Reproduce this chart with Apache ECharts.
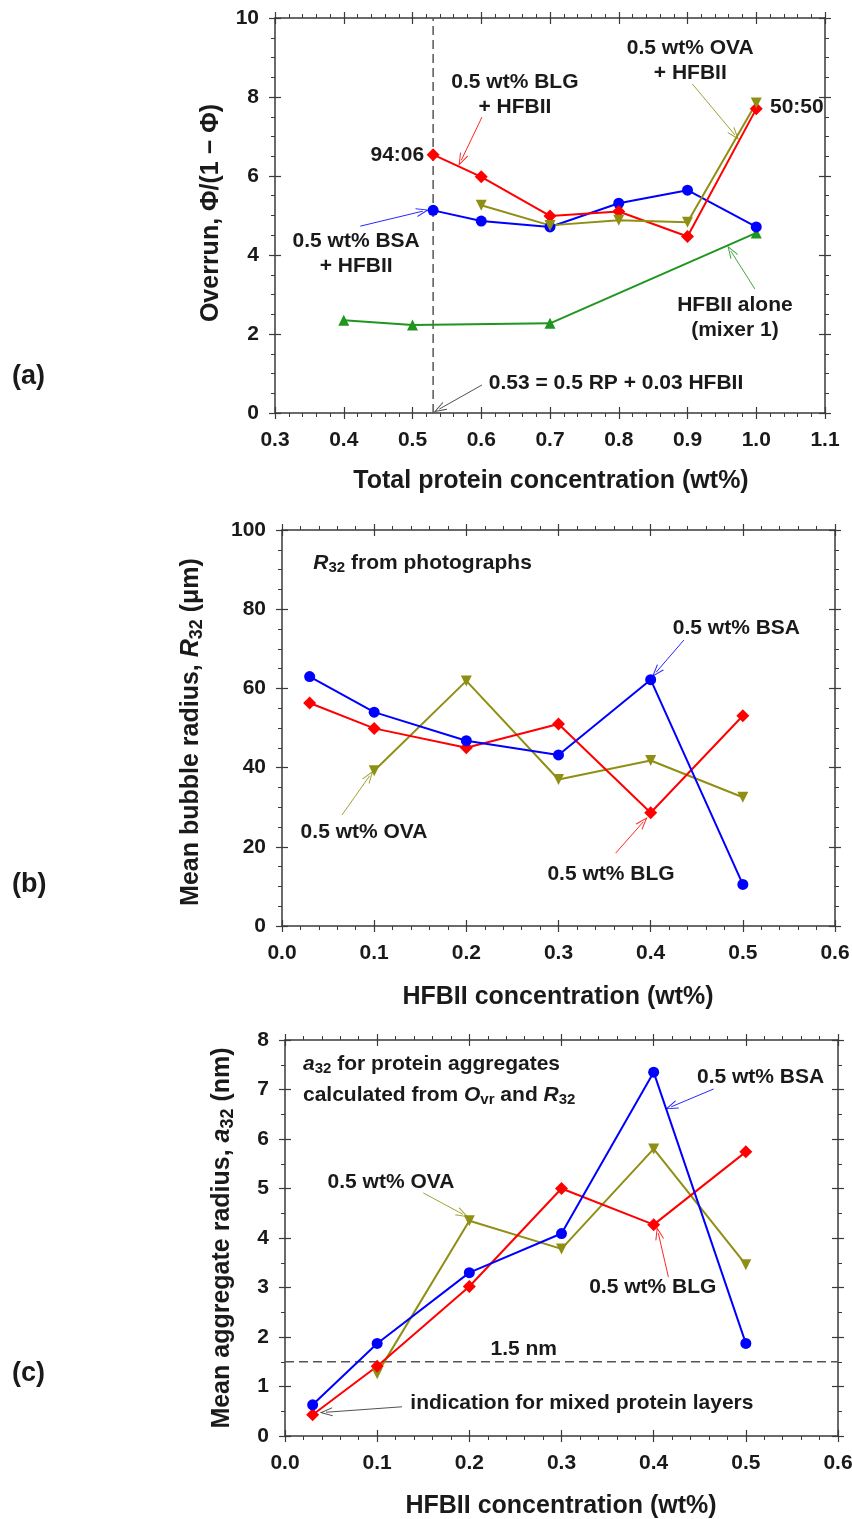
<!DOCTYPE html>
<html>
<head>
<meta charset="utf-8">
<script src="https://cdn.jsdelivr.net/npm/echarts@6/dist/echarts.min.js"></script>
<style>
  html, body { margin: 0; background: #fff; }
  #chart { width: 852px; height: 1519px; }
</style>
</head>
<body>
<div id="chart"></div>
<script>
// (a) overrun vs total protein concentration
const xA_mix = [0.53, 0.6, 0.7, 0.8, 0.9, 1.0];
const yA_bsa = [5.13, 4.86, 4.71, 5.31, 5.64, 4.71];
const yA_blg = [6.54, 5.98, 4.99, 5.10, 4.47, 7.70];
const xA_ova = [0.6, 0.7, 0.8, 0.9, 1.0];
const yA_ova = [5.26, 4.75, 4.88, 4.83, 7.85];
const xA_hfb = [0.4, 0.5, 0.7, 1.0];
const yA_hfb = [2.35, 2.23, 2.27, 4.56];

// (b) mean bubble radius R32 vs HFBII concentration
const xB = [0.03, 0.1, 0.2, 0.3, 0.4, 0.5];
const yB_bsa = [63.0, 54.0, 46.8, 43.2, 62.2, 10.5];
const yB_blg = [56.3, 49.9, 45.0, 51.0, 28.6, 53.1];
const xB_ova = [0.1, 0.2, 0.3, 0.4, 0.5];
const yB_ova = [39.2, 61.9, 37.0, 41.8, 32.5];

// (c) mean aggregate radius a32 vs HFBII concentration
const xC = [0.03, 0.1, 0.2, 0.3, 0.4, 0.5];
const yC_bsa = [0.63, 1.87, 3.30, 4.09, 7.35, 1.87];
const yC_blg = [0.43, 1.41, 3.02, 5.00, 4.27, 5.74];
const xC_ova = [0.1, 0.2, 0.3, 0.4, 0.5];
const yC_ova = [1.26, 4.35, 3.78, 5.80, 3.46];

const refA = 0.53;   // 0.5 RP + 0.03 HFBII
const refC = 1.5;    // 1.5 nm

const FONT = "'Liberation Sans', Arial, sans-serif";
const TXT = "#1a1a1a";
const AX = "#3a3a3a";
const BLUE = "#0000ff";
const RED = "#ff0000";
const OLIVE = "#8f8f14";
const GREEN = "#1f961f";
const ARROW = "path://M5,0 L10,13 L8.8,13 L5,3 L1.2,13 L0,13 Z";

function richStyles(size) {
  const base = { fontFamily: FONT, fontWeight: "bold", fill: TXT };
  return {
    i: { ...base, fontSize: size, fontStyle: "italic", lineHeight: Math.round(size * 1.2) },
    sub: { ...base, fontSize: Math.round(size * 0.72), lineHeight: Math.round(size * 0.72), verticalAlign: "bottom" },
  };
}

function sideAxes(g, isX, min, max, interval, minorSplit, fmt) {
  const sides = isX ? ["bottom", "top"] : ["left", "right"];
  const out = [];
  sides.forEach((pos, si) => {
    [false, true].forEach((inside) => {
      out.push({
        type: "value",
        gridIndex: g,
        position: pos,
        min, max, interval,
        axisLine: { show: !inside, onZero: false, lineStyle: { color: AX, width: 1.5 } },
        axisTick: { show: true, inside, length: 6, lineStyle: { color: AX, width: 1.2 } },
        minorTick: { show: !inside, splitNumber: minorSplit, length: 4, lineStyle: { color: AX, width: 1 } },
        splitLine: { show: false },
        minorSplitLine: { show: false },
        axisLabel: {
          show: !inside && si === 0,
          formatter: fmt,
          fontFamily: FONT, fontSize: 21, fontWeight: "bold", color: TXT,
          margin: isX ? 17 : 16,
        },
      });
    });
  });
  return out;
}

const oneDec = (v) => v.toFixed(1);
const intFmt = (v) => String(Math.round(v));

function pts(xs, ys) {
  return xs.map((x, i) => [x, ys[i]]);
}

function arrows(list, color) {
  return {
    silent: true,
    symbol: ["none", ARROW],
    symbolSize: [9, 13],
    label: { show: false },
    lineStyle: { color, width: 1, type: "solid", opacity: 0.85 },
    data: list.map((a) => [{ coord: [a[0], a[1]] }, { coord: [a[2], a[3]] }]),
  };
}

function line(g, data, color, symbol, size, rotate, arrowList) {
  const s = {
    type: "line",
    xAxisIndex: 4 * g,
    yAxisIndex: 4 * g,
    data,
    symbol,
    symbolSize: size,
    symbolRotate: rotate || 0,
    showAllSymbol: true,
    lineStyle: { color, width: 2 },
    itemStyle: { color },
    silent: true,
    animation: false,
  };
  if (arrowList) s.markLine = arrows(arrowList, color);
  return s;
}

function refLine(g, data, arrowList) {
  const s = {
    type: "line",
    xAxisIndex: 4 * g,
    yAxisIndex: 4 * g,
    data,
    symbol: "none",
    lineStyle: { color: "#555", width: 1.5, type: [9, 5] },
    silent: true,
    animation: false,
    z: 1,
  };
  if (arrowList) s.markLine = arrows(arrowList, "#333");
  return s;
}

const chart = echarts.init(document.getElementById("chart"), null, { renderer: "canvas" });

chart.setOption({
  backgroundColor: "#fff",
  animation: false,
  grid: [
    { left: 275, top: 18, width: 550, height: 395, outerBoundsMode: "none" },
    { left: 282, top: 530, width: 553, height: 396, outerBoundsMode: "none" },
    { left: 285, top: 1040, width: 553, height: 396, outerBoundsMode: "none" },
  ],
  xAxis: [
    ...sideAxes(0, true, 0.3, 1.1, 0.1, 5, oneDec),
    ...sideAxes(1, true, 0, 0.6, 0.1, 5, oneDec),
    ...sideAxes(2, true, 0, 0.6, 0.1, 5, oneDec),
  ],
  yAxis: [
    ...sideAxes(0, false, 0, 10, 2, 4, intFmt),
    ...sideAxes(1, false, 0, 100, 20, 4, intFmt),
    ...sideAxes(2, false, 0, 8, 1, 2, intFmt),
  ],
  series: [
    // (a)
    refLine(0, [[refA, 0], [refA, 10]], [[0.601, 0.71, 0.539, 0.10]]),
    line(0, pts(xA_hfb, yA_hfb), GREEN, "triangle", 11, 0, [[0.998, 3.14, 0.963, 4.10]]),
    line(0, pts(xA_mix, yA_bsa), BLUE, "circle", 11, 0, [[0.424, 4.73, 0.515, 5.11]]),
    line(0, pts(xA_mix, yA_blg), RED, "diamond", 13, 0, [[0.601, 7.49, 0.571, 6.40]]),
    line(0, pts(xA_ova, yA_ova), OLIVE, "triangle", 11, 180, [[0.907, 8.33, 0.969, 7.04]]),
    // (b)
    line(1, pts(xB_ova, yB_ova), OLIVE, "triangle", 11, 180, [[0.065, 28.0, 0.095, 37.9]]),
    line(1, pts(xB, yB_blg), RED, "diamond", 13, 0, [[0.362, 18.4, 0.392, 26.3]]),
    line(1, pts(xB, yB_bsa), BLUE, "circle", 11, 0, [[0.436, 72.2, 0.406, 64.1]]),
    // (c)
    refLine(2, [[0, refC], [0.6, refC]], [[0.127, 0.59, 0.0445, 0.48]]),
    line(2, pts(xC_ova, yC_ova), OLIVE, "triangle", 11, 180, [[0.150, 4.91, 0.193, 4.48]]),
    line(2, pts(xC, yC_blg), RED, "diamond", 13, 0, [[0.416, 3.21, 0.405, 4.10]]),
    line(2, pts(xC, yC_bsa), BLUE, "circle", 11, 0, [[0.465, 7.01, 0.419, 6.65]]),
  ],
});

// annotations anchored in data coordinates: [grid, x, y, text, align]
const notes = [
  [0, 0.649, 8.07, "0.5 wt% BLG\n+ HFBII", "center"],
  [0, 0.517, 6.53, "94:06", "right"],
  [0, 0.418, 4.04, "0.5 wt% BSA\n+ HFBII", "center"],
  [0, 0.904, 8.91, "0.5 wt% OVA\n+ HFBII", "center"],
  [0, 1.020, 7.75, "50:50", "left"],
  [0, 0.969, 2.41, "HFBII alone\n(mixer 1)", "center"],
  [0, 0.611, 0.76, "0.53 = 0.5 RP + 0.03 HFBII", "left"],
  [1, 0.034, 91.7, "{i|R}{sub|32} from photographs", "left"],
  [1, 0.493, 75.3, "0.5 wt% BSA", "center"],
  [1, 0.089, 23.7, "0.5 wt% OVA", "center"],
  [1, 0.357, 13.1, "0.5 wt% BLG", "center"],
  [2, 0.0195, 7.52, "{i|a}{sub|32} for protein aggregates", "left"],
  [2, 0.0195, 6.89, "calculated from {i|O}{sub|vr} and {i|R}{sub|32}", "left"],
  [2, 0.516, 7.25, "0.5 wt% BSA", "center"],
  [2, 0.115, 5.13, "0.5 wt% OVA", "center"],
  [2, 0.399, 3.01, "0.5 wt% BLG", "center"],
  [2, 0.259, 1.76, "1.5 nm", "center"],
  [2, 0.136, 0.67, "indication for mixed protein layers", "left"],
];

function textEl(x, y, text, size, align, rotation) {
  return {
    type: "text",
    x, y,
    rotation: rotation || 0,
    silent: true,
    style: {
      text,
      fontFamily: FONT,
      fontSize: size,
      fontWeight: "bold",
      fill: TXT,
      align: align || "center",
      verticalAlign: "middle",
      lineHeight: Math.round(size * 1.2),
      rich: richStyles(size),
    },
  };
}

const graphics = notes.map(([g, x, y, t, align]) => {
  const p = chart.convertToPixel({ xAxisIndex: 4 * g, yAxisIndex: 4 * g }, [x, y]);
  return textEl(p[0], p[1], t, 21, align);
});

// axis titles and panel letters
graphics.push(
  textEl(551, 481, "Total protein concentration (wt%)", 25),
  textEl(211, 213, "Overrun, \u03A6/(1 \u2212 \u03A6)", 25, "center", Math.PI / 2),
  textEl(558, 997, "HFBII concentration (wt%)", 25),
  textEl(191, 732, "Mean bubble radius, {i|R}{sub|32} (\u03BCm)", 25, "center", Math.PI / 2),
  textEl(561, 1506, "HFBII concentration (wt%)", 25),
  textEl(222, 1238, "Mean aggregate radius, {i|a}{sub|32} (nm)", 25, "center", Math.PI / 2),
  textEl(12, 377, "(a)", 27, "left"),
  textEl(12, 885, "(b)", 27, "left"),
  textEl(12, 1374, "(c)", 27, "left"),
);

chart.setOption({ graphic: graphics });
</script>
</body>
</html>
